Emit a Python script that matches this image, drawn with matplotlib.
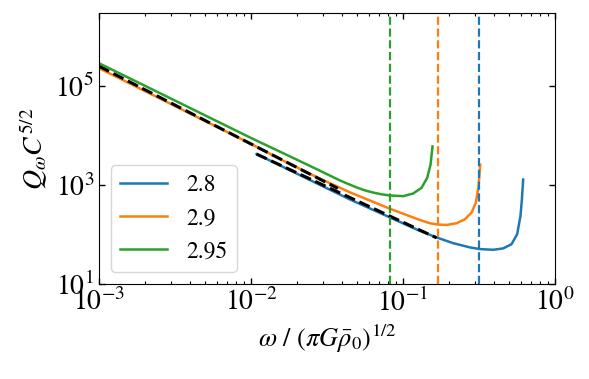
import matplotlib
matplotlib.use("Agg")
import matplotlib.pyplot as plt
from matplotlib import ticker

plt.rcParams["font.family"] = "STIXGeneral"
plt.rcParams["mathtext.fontset"] = "stix"

# curve for 2.8 (blue)
x_28 = [0.0109, 0.0448, 0.0820, 0.1294, 0.1667, 0.2143, 0.276, 0.321, 0.393,
        0.457, 0.519, 0.565, 0.594, 0.607, 0.619]
y_28 = [4207, 509, 221, 117.5, 86.7, 66.5, 54.6, 50.5, 48.9,
        52.1, 63.5, 100.9, 235, 509, 1282]

# curve for 2.9 (orange)
x_29 = [0.001, 0.01, 0.01633, 0.02704, 0.0448, 0.0820, 0.1294, 0.1507, 0.1706,
        0.1936, 0.2254, 0.2559, 0.2831, 0.302, 0.3148, 0.3228]
y_29 = [229100, 6761, 3090, 1445, 708, 331, 195.4, 167.9, 158.1,
        155.2, 167.9, 201.8, 275.4, 436.5, 942, 2570]

# curve for 2.95 (green)
x_295 = [0.001, 0.01, 0.01633, 0.02704, 0.03855, 0.04365, 0.04955, 0.05623,
         0.06383, 0.07244, 0.0820, 0.1005, 0.1169, 0.1327, 0.1445, 0.1521, 0.1567]
y_295 = [288400, 8913, 4365, 2089, 1230, 1047, 891, 776,
         700, 646, 612, 593, 671, 875, 1390, 2570, 5984]

# asymptotic power laws (black dashed)
x_fit_hi = [0.001, 0.03733]
y_fit_hi = [251200, 851]
x_fit_lo = [0.01089, 0.1667]
y_fit_lo = [4207, 85.1]

# vertical markers
x_cut = {"2.8": 0.316, "2.9": 0.169, "2.95": 0.082}

labels = ["2.8", "2.9", "2.95"]
colors = ["#1f77b4", "#ff7f0e", "#2ca02c"]

fig = plt.figure(figsize=(5.89, 3.79), dpi=100)
ax = fig.add_axes([0.168, 0.251, 0.774, 0.715])

ax.loglog(x_28, y_28, color=colors[0], lw=1.8, label=labels[0])
ax.loglog(x_29, y_29, color=colors[1], lw=1.8, label=labels[1])
ax.loglog(x_295, y_295, color=colors[2], lw=1.8, label=labels[2])

ax.loglog(x_fit_hi, y_fit_hi, "k--", lw=2.2)
ax.loglog(x_fit_lo, y_fit_lo, "k--", lw=2.2)

for lab, col in zip(labels, colors):
    ax.axvline(x_cut[lab], color=col, ls="--", lw=1.6)

ax.set_xlim(1e-3, 1e0)
ax.set_ylim(1e1, 3e6)

ax.yaxis.set_major_locator(ticker.FixedLocator([1e1, 1e3, 1e5]))
ax.yaxis.set_minor_locator(ticker.NullLocator())
ax.xaxis.set_major_locator(ticker.LogLocator(base=10))
ax.xaxis.set_minor_locator(ticker.LogLocator(base=10, subs=range(2, 10)))

ax.tick_params(which="both", direction="in", top=True, right=True, labelsize=20)
ax.tick_params(which="major", length=4.5, width=1)
ax.tick_params(which="minor", length=2.5, width=0.8)

ax.set_xlabel(r"$\omega$ / $(\pi G\bar{\rho}_0)^{1/2}$", fontsize=19)
ax.set_ylabel(r"$Q_\omega C^{5/2}$", fontsize=20)

ax.legend(loc="lower left", fontsize=17, handlelength=2.0)

fig.savefig("out.png", dpi=100)
